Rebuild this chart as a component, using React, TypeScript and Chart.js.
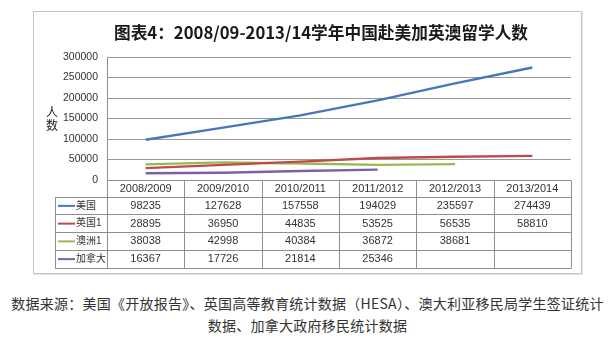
import React, { useEffect, useRef } from 'react';
import { Chart, registerables } from 'chart.js';

Chart.register(...registerables);

const titleText = '图表4：2008/09-2013/14学年中国赴美加英澳留学人数';
const categories = ['2008/2009', '2009/2010', '2010/2011', '2011/2012', '2012/2013', '2013/2014'];
const seriesNames = ['美国', '英国1', '澳洲1', '加拿大'];
const usaValues = [98235, 127628, 157558, 194029, 235597, 274439];
const ukValues = [28895, 36950, 44835, 53525, 56535, 58810];
const australiaValues = [38038, 42998, 40384, 36872, 38681, null];
const canadaValues = [16367, 17726, 21814, 25346, null, null];
const seriesColors = ['#4677B8', '#BE4B48', '#98B954', '#7D60A0'];
const yAxisTitle = ['人', '数'];
const yMin = 0;
const yMax = 300000;
const yStep = 50000;
const captionLines = [
  '数据来源：美国《开放报告》、英国高等教育统计数据（HESA）、澳大利亚移民局学生签证统计',
  '数据、加拿大政府移民统计数据',
];

const FONT = "'Liberation Sans', 'Noto Sans CJK SC', sans-serif";

const tablePlugin = {
  id: 'dataTable',
  afterDraw(chart: any) {
    const { ctx, chartArea } = chart;
    const xs = chart.scales.x;
    const L = chartArea.left;
    const R = chartArea.right;
    const colW = (R - L) / categories.length;
    const top = chartArea.bottom;
    const headH = 16.5;
    const rowH = 17.75;
    const labelLeft = 21;
    const ds = chart.data.datasets;
    const bottom = top + headH + rowH * ds.length;
    const px = (v: number) => Math.round(v) + 0.5;

    ctx.save();

    // title
    ctx.fillStyle = '#1a1a1a';
    ctx.font = `bold 16.7px 'Noto Sans CJK SC', sans-serif`;
    ctx.textAlign = 'center';
    ctx.textBaseline = 'middle';
    ctx.fillText(titleText, 287, 20.5);

    // table grid
    ctx.strokeStyle = '#8f8f8f';
    ctx.lineWidth = 1;
    ctx.beginPath();
    ctx.moveTo(L, px(top));
    ctx.lineTo(R, px(top));
    for (let r = 0; r <= ds.length; r++) {
      const y = px(top + headH + r * rowH);
      ctx.moveTo(labelLeft, y);
      ctx.lineTo(R, y);
    }
    ctx.moveTo(px(labelLeft), px(top + headH));
    ctx.lineTo(px(labelLeft), px(bottom));
    for (let i = 0; i <= categories.length; i++) {
      const x = px(L + i * colW);
      ctx.moveTo(x, px(top));
      ctx.lineTo(x, px(bottom));
    }
    ctx.stroke();

    ctx.fillStyle = '#333';
    ctx.font = `11px ${FONT}`;
    ctx.textAlign = 'center';
    ctx.textBaseline = 'middle';
    chart.data.labels.forEach((lab: string, i: number) => {
      ctx.fillText(lab, xs.getPixelForValue(i), top + headH / 2 + 1);
    });

    ds.forEach((d: any, r: number) => {
      const cy = top + headH + r * rowH + rowH / 2 + 0.5;
      ctx.strokeStyle = d.borderColor;
      ctx.lineWidth = 2;
      ctx.beginPath();
      ctx.moveTo(labelLeft + 3, cy);
      ctx.lineTo(labelLeft + 20, cy);
      ctx.stroke();
      ctx.fillStyle = '#333';
      ctx.font = `10px ${FONT}`;
      ctx.textAlign = 'left';
      ctx.fillText(d.label, labelLeft + 21, cy);
      ctx.font = `11px ${FONT}`;
      ctx.textAlign = 'center';
      d.data.forEach((v: number | null, i: number) => {
        if (v === null || v === undefined) return;
        ctx.fillText(String(v), xs.getPixelForValue(i), cy);
      });
    });

    ctx.fillStyle = '#222';
    ctx.font = `12px ${FONT}`;
    ctx.textAlign = 'center';
    yAxisTitle.forEach((ch, i) => {
      ctx.fillText(ch, 18, 102 + i * 13);
    });
    ctx.restore();
  },
};

export default function App() {
  const ref = useRef<HTMLCanvasElement | null>(null);

  useEffect(() => {
    if (!ref.current) return;
    const seriesValues = [usaValues, ukValues, australiaValues, canadaValues];
    const chart = new Chart(ref.current, {
      type: 'line',
      data: {
        labels: categories,
        datasets: seriesNames.map((name, i) => ({
          label: name,
          data: seriesValues[i],
          borderColor: seriesColors[i],
          backgroundColor: seriesColors[i],
          borderWidth: 2.4,
          pointRadius: 0,
          tension: 0,
          spanGaps: false,
          fill: false,
        })),
      },
      options: {
        responsive: false,
        maintainAspectRatio: false,
        animation: false,
        layout: { padding: { left: 0, right: 10, top: 45, bottom: 93 } },
        plugins: {
          legend: { display: false },
          tooltip: { enabled: false },
          title: { display: false },
        },
        scales: {
          x: {
            display: false,
            offset: true,
            grid: { display: false },
          },
          y: {
            min: yMin,
            max: yMax,
            afterFit: (scale: any) => {
              scale.width = 73;
            },
            ticks: {
              stepSize: yStep,
              padding: 9,
              color: '#333',
              font: { family: FONT, size: 10.5 },
              callback: (v: any) => String(v),
            },
            grid: { color: '#9a9a9a', drawTicks: false, lineWidth: 1 },
            border: { display: true, color: '#8f8f8f' },
          },
        },
      },
      plugins: [tablePlugin],
    } as any);
    return () => chart.destroy();
  }, []);

  return (
    <div style={{ position: 'absolute', left: 0, top: 0, width: 613, height: 341, background: '#fff' }}>
      <div
        style={{
          position: 'absolute',
          left: 33,
          top: 11,
          width: 547,
          height: 261,
          border: '1px solid #c4c4c4',
          boxShadow: '1px 1px 0 #e4e4e4',
          background: '#fff',
        }}
      >
        <canvas ref={ref} width={547} height={261} style={{ display: 'block', width: 547, height: 261 }} />
      </div>
      <div
        style={{
          position: 'absolute',
          left: 1,
          top: 292,
          width: 613,
          textAlign: 'center',
          fontFamily: "'Noto Sans CJK SC', sans-serif",
          fontSize: 14,
          letterSpacing: '0.25px',
          lineHeight: '22px',
          color: '#333',
          whiteSpace: 'nowrap',
        }}
      >
        {captionLines.map((line, i) => (
          <div key={i}>{line}</div>
        ))}
      </div>
    </div>
  );
}
